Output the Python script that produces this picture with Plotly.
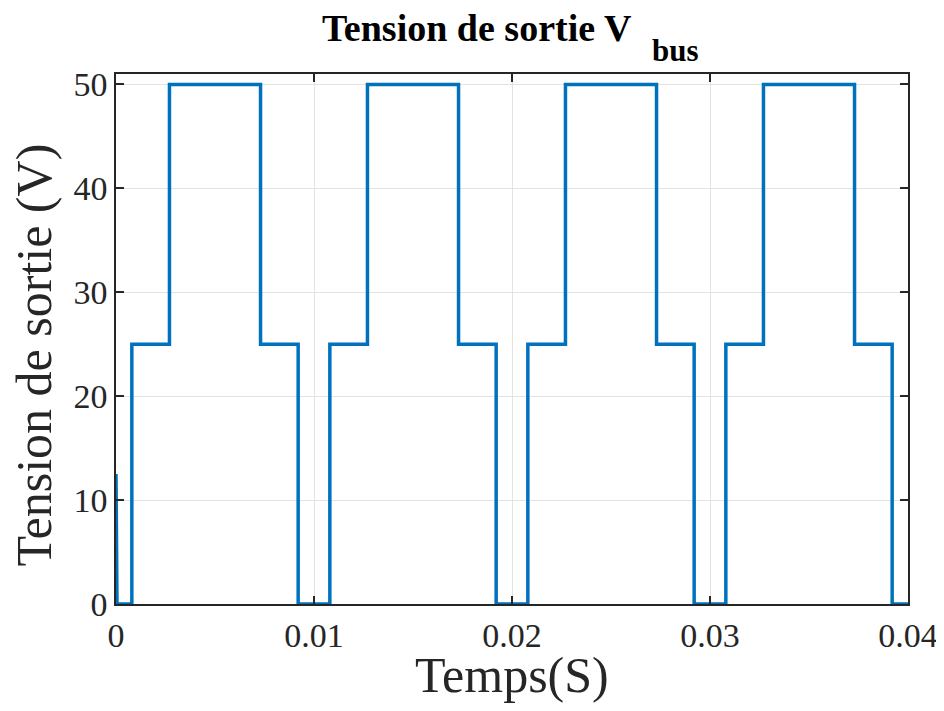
import plotly.graph_objects as go

# Time (s) and bus voltage (V), vertical edges as duplicated times
time_s = [0.0, 0.00005,
          0.0008, 0.0008, 0.0027, 0.0027, 0.0073, 0.0073, 0.0092, 0.0092,
          0.0108, 0.0108, 0.0127, 0.0127, 0.0173, 0.0173, 0.0192, 0.0192,
          0.0208, 0.0208, 0.0227, 0.0227, 0.0273, 0.0273, 0.0292, 0.0292,
          0.0308, 0.0308, 0.0327, 0.0327, 0.0373, 0.0373, 0.0392, 0.0392,
          0.04]
v_bus = [12.5, 0,
         0, 25, 25, 50, 50, 25, 25, 0,
         0, 25, 25, 50, 50, 25, 25, 0,
         0, 25, 25, 50, 50, 25, 25, 0,
         0, 25, 25, 50, 50, 25, 25, 0,
         0]

x_ticks = [0, 0.01, 0.02, 0.03, 0.04]
x_ticklabels = ["0", "0.01", "0.02", "0.03", "0.04"]
y_ticks = [0, 10, 20, 30, 40, 50]

title_main = "Tension de sortie V"
title_sub = "bus"
x_title = "Temps(S)"
y_title = "Tension de sortie (V)"

FONT = "Liberation Serif, Times New Roman, serif"
W, H = 936, 695  # page body has an 8px margin
L, T, R, B = 108, 66, 36, 99

fig = go.Figure()
fig.add_trace(go.Scatter(x=time_s, y=v_bus, mode="lines",
                         line=dict(color="#0072BD", width=3.5),
                         showlegend=False))

axis_common = dict(showline=True, linecolor="#262626", linewidth=1.5, mirror="ticks",
                   ticks="inside", ticklen=8, tickwidth=1.5, tickcolor="#262626",
                   showgrid=True, gridcolor="#e3e3e3", gridwidth=1, zeroline=False,
                   automargin=False, ticklabeloverflow="allow",
                   tickfont=dict(family=FONT, size=34, color="#262626"))

fig.update_layout(
    width=W, height=H,
    margin=dict(l=L, r=R, t=T, b=B),
    paper_bgcolor="white", plot_bgcolor="white",
    title=dict(text="<b>" + title_main + "</b>",
               x=314 / W, xanchor="left", xref="container",
               y=1 - 33 / H, yanchor="bottom", yref="container",
               font=dict(family=FONT, size=38, color="black")),
    xaxis=dict(range=[0, 0.04], tickvals=x_ticks, ticktext=x_ticklabels, **axis_common),
    yaxis=dict(range=[0, 51], tickvals=y_ticks, **axis_common),
)

PW, PH = W - L - R, H - T - B
fig.add_annotation(text="<b>" + title_sub + "</b>", xref="paper", yref="paper",
                   x=(642 - L) / PW, xanchor="left",
                   y=(H - B - 62) / PH, yanchor="bottom",
                   showarrow=False, font=dict(family=FONT, size=31, color="black"))
fig.add_annotation(text=x_title, xref="paper", yref="paper",
                   x=0.5, xanchor="center",
                   y=(H - B - 667) / PH, yanchor="middle",
                   showarrow=False, font=dict(family=FONT, size=50, color="#262626"))
fig.add_annotation(text=y_title, xref="paper", yref="paper", textangle=-90,
                   x=(25 - L) / PW, xanchor="center",
                   y=(H - B - 347.5) / PH, yanchor="middle",
                   showarrow=False, font=dict(family=FONT, size=50, color="#262626"))

fig.write_html("out.html")
